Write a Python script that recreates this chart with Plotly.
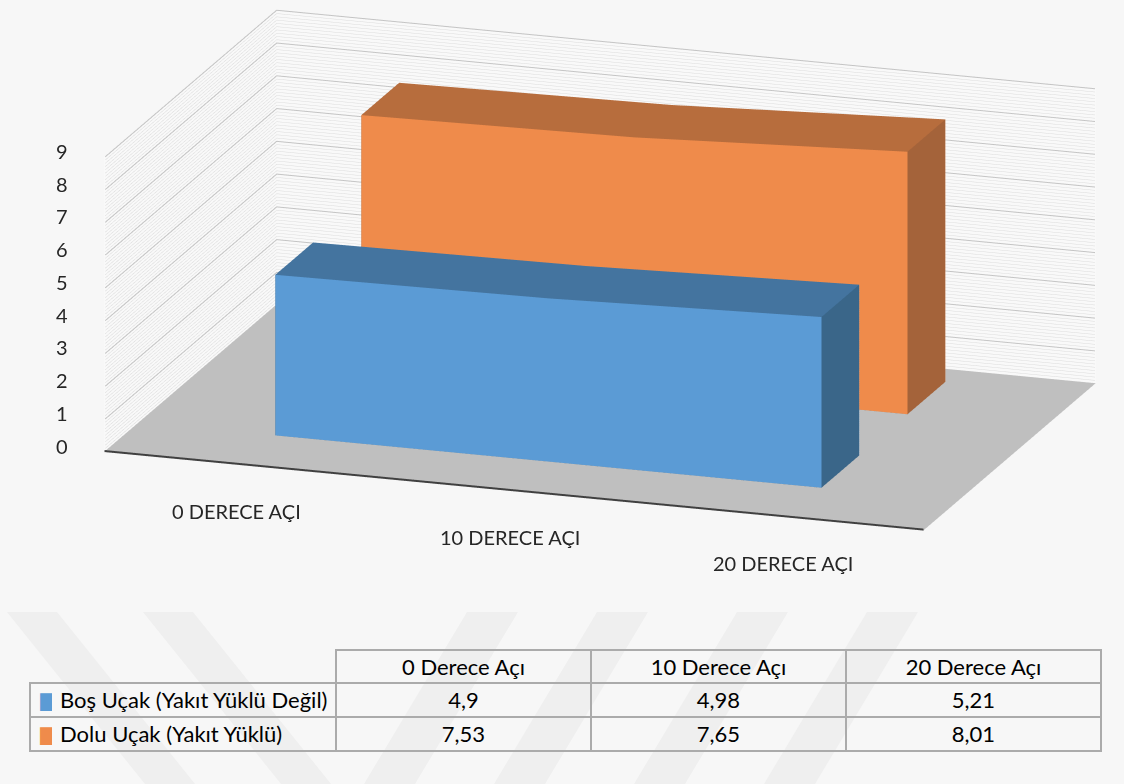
import plotly.graph_objects as go

# ---------------- data ----------------
categories = ["0 DERECE AÇI", "10 DERECE AÇI", "20 DERECE AÇI"]
table_headers = ["0 Derece Açı", "10 Derece Açı", "20 Derece Açı"]
series_names = ["Boş Uçak (Yakıt Yüklü Değil)", "Dolu Uçak (Yakıt Yüklü)"]
bos_ucak = [4.9, 4.98, 5.21]
dolu_ucak = [7.53, 7.65, 8.01]
value_ticks = list(range(0, 10))
minor_step = 0.1

# ---------------- styles ----------------
front_colors = ["#5B9BD5", "#EF8B4B"]
top_colors = ["#44749F", "#B76D3D"]
side_colors = ["#3A6689", "#A4633A"]
depth_slots = [(0.20, 0.42), (0.70, 0.92)]
FONT = "Lato"
EYE_DIR = (0.3043, -0.9085, 0.2863)
EYE_DIST = 3.0
ASPECT = dict(x=3.20, y=2.006, z=1.140)


def ribbon(vals, y0, y1, cf, ct, cs):
    n = len(vals)
    xs = [i + 0.5 for i in range(n)]
    X, Y, Z = [], [], []

    def add(x, y, z):
        X.append(x); Y.append(y); Z.append(z)
        return len(X) - 1

    Fb = [add(xs[i], y0, 0) for i in range(n)]
    Ft = [add(xs[i], y0, vals[i]) for i in range(n)]
    Bb = [add(xs[i], y1, 0) for i in range(n)]
    Bt = [add(xs[i], y1, vals[i]) for i in range(n)]
    I, J, K, C = [], [], [], []

    def quad(a, b, c, d, col):
        I.extend([a, a]); J.extend([b, c]); K.extend([c, d]); C.extend([col, col])

    for i in range(n - 1):
        quad(Fb[i], Fb[i + 1], Ft[i + 1], Ft[i], cf)
        quad(Bb[i], Bb[i + 1], Bt[i + 1], Bt[i], cf)
        quad(Ft[i], Ft[i + 1], Bt[i + 1], Bt[i], ct)
        quad(Fb[i], Fb[i + 1], Bb[i + 1], Bb[i], cs)
    quad(Fb[0], Bb[0], Bt[0], Ft[0], cs)
    quad(Fb[-1], Bb[-1], Bt[-1], Ft[-1], cs)
    return go.Mesh3d(x=X, y=Y, z=Z, i=I, j=J, k=K, facecolor=C, flatshading=True,
                     lighting=dict(ambient=1, diffuse=0, specular=0, roughness=1, fresnel=0),
                     hoverinfo="skip", showscale=False)


def wall_lines(levels, xmax, ymax):
    gx, gy, gz = [], [], []
    for t in levels:
        gx += [0.003, 0.003, xmax, None]
        gy += [0.0, ymax - 0.003, ymax - 0.003, None]
        gz += [t, t, t, None]
    return gx, gy, gz


fig = go.Figure()

n_cat = len(categories)
xmax = n_cat
ymax = 1.0
zmax = value_ticks[-1]

# minor + major gridlines on the two walls
n_minor = int(round(zmax / minor_step))
per_unit = int(round(1 / minor_step))
minor_levels = [k * minor_step for k in range(1, n_minor) if k % per_unit != 0]
mx, my, mz = wall_lines(minor_levels, xmax, ymax)
fig.add_trace(go.Scatter3d(x=mx, y=my, z=mz, mode="lines",
                           line=dict(color="#DCDCDC", width=1), hoverinfo="skip"))
gx, gy, gz = wall_lines(value_ticks[1:], xmax, ymax)
fig.add_trace(go.Scatter3d(x=gx, y=gy, z=gz, mode="lines",
                           line=dict(color="#C4C4C4", width=2), hoverinfo="skip"))

# front category axis line
fig.add_trace(go.Scatter3d(x=[0, xmax], y=[0, 0], z=[0.02, 0.02], mode="lines",
                           line=dict(color="#404040", width=4), hoverinfo="skip"))

for s, vals in enumerate([bos_ucak, dolu_ucak]):
    y0, y1 = depth_slots[s]
    fig.add_trace(ribbon(vals, y0, y1, front_colors[s], top_colors[s], side_colors[s]))

annotations = []
for t in value_ticks:
    annotations.append(dict(x=0, y=0, z=t, text=str(t), showarrow=False, xanchor="right",
                            xshift=-34, yshift=6, font=dict(family=FONT, size=20, color="#262626")))
for i, c in enumerate(categories):
    annotations.append(dict(x=i + 0.5, y=0, z=0, text=c, showarrow=False,
                            yshift=-46, xshift=-4, font=dict(family=FONT, size=20, color="#262626")))

axis_common = dict(showgrid=False, showline=False, zeroline=False, showticklabels=False,
                   ticks="", title=dict(text=""), showspikes=False, showbackground=True)

fig.update_layout(
    width=1124, height=784, margin=dict(l=0, r=0, t=0, b=0),
    paper_bgcolor="#F7F7F7", showlegend=False,
    scene=dict(
        domain=dict(x=[0.0676, 1.0], y=[0.3112, 1.0]),
        bgcolor="rgba(0,0,0,0)",
        xaxis=dict(range=[0, xmax], backgroundcolor="#F9F9F9", **axis_common),
        yaxis=dict(range=[0, ymax], backgroundcolor="#F9F9F9", **axis_common),
        zaxis=dict(range=[0, zmax], backgroundcolor="#BFBFBF", **axis_common),
        aspectmode="manual", aspectratio=ASPECT,
        camera=dict(eye=dict(x=EYE_DIR[0] * EYE_DIST, y=EYE_DIR[1] * EYE_DIST, z=EYE_DIR[2] * EYE_DIST),
                    center=dict(x=0, y=0, z=0), up=dict(x=0, y=0, z=1),
                    projection=dict(type="orthographic")),
        annotations=annotations,
    ),
)

# data table (bordered grid)
NB = "\u00a0"
fmt = lambda v: f"{v:g}".replace(".", ",")
table_domain = dict(x=[30 / 1124, 1101 / 1124], y=[0, 1 - 650 / 784])
cols = [["", ""]] + [[fmt(bos_ucak[i]), fmt(dolu_ucak[i])] for i in range(n_cat)]
fig.add_trace(go.Table(
    domain=table_domain,
    columnwidth=[306, 255, 255, 255],
    header=dict(values=[""] + [h.replace(" ", NB) for h in table_headers], fill_color="rgba(0,0,0,0)",
                line=dict(color=["rgba(0,0,0,0)"] + ["#ABABAB"] * 3, width=2),
                align="center", height=33, font=dict(family=FONT, size=22, color="#000000")),
    cells=dict(values=cols, fill_color="rgba(0,0,0,0)", line=dict(color="#ABABAB", width=2),
               align=["left", "center", "center", "center"], height=34,
               font=dict(family=FONT, size=22, color="#000000")),
))

# overlay table (legend keys + series names, no borders)
clear = "rgba(0,0,0,0)"
fig.add_trace(go.Table(
    domain=table_domain,
    columnwidth=[22, 284, 765],
    header=dict(values=["", "", ""], fill_color=clear, line=dict(color=clear, width=0), height=33,
                font=dict(family=FONT, size=22, color="#000000")),
    cells=dict(values=[["■", "■"], [n.replace(" ", NB) for n in series_names], ["", ""]],
               fill_color=clear, line=dict(color=clear, width=0), height=34,
               align=["left", "left", "left"],
               font=dict(family=["DejaVu Sans", FONT, FONT], size=[23, 22, 22],
                         color=[front_colors, "#000000", "#000000"])),
))

# faint watermark bands (background decoration)
for x0 in [7, 143]:
    fig.add_shape(type="path", xref="paper", yref="paper", layer="below",
                  path=f"M {x0/1124} {1-612/784} L {(x0+50)/1124} {1-612/784} L {(x0+50+138)/1124} 0 L {(x0+138)/1124} 0 Z",
                  fillcolor="#EFEFEF", line=dict(width=0))
for x0 in [467, 597, 737, 867]:
    fig.add_shape(type="path", xref="paper", yref="paper", layer="below",
                  path=f"M {x0/1124} {1-612/784} L {(x0+51)/1124} {1-612/784} L {(x0+51-103)/1124} 0 L {(x0-103)/1124} 0 Z",
                  fillcolor="#EFEFEF", line=dict(width=0))

fig.write_html("out.html")
